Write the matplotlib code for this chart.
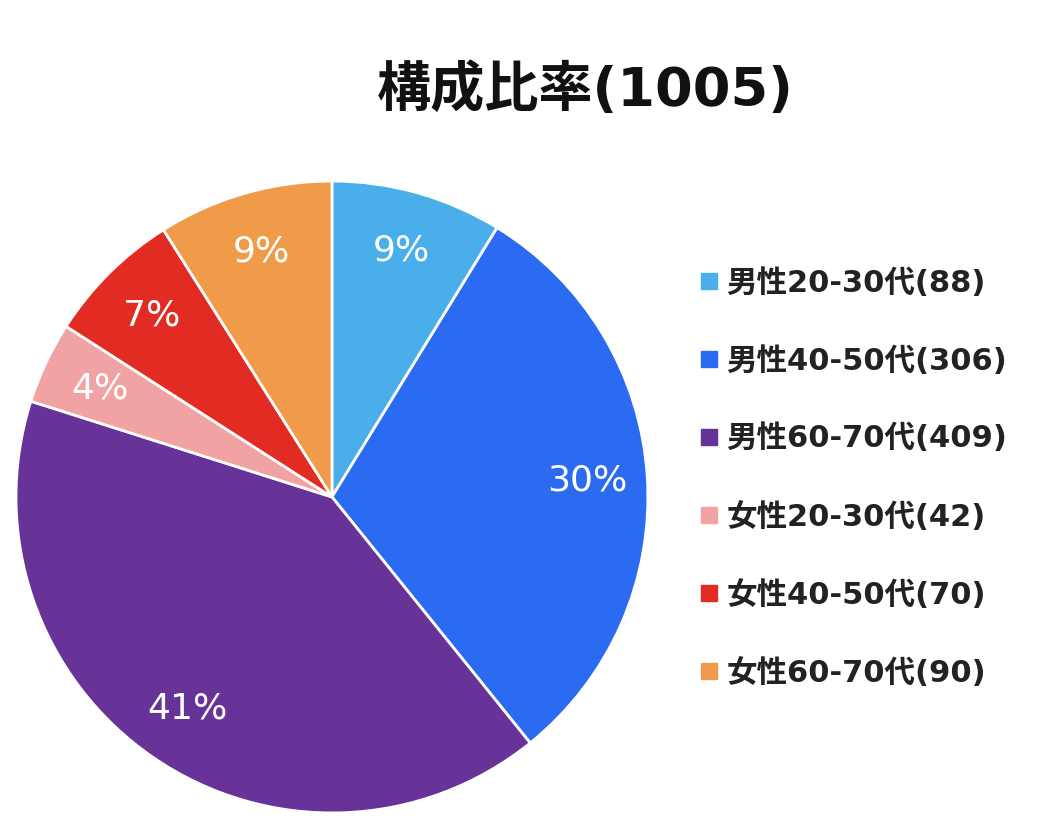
import matplotlib
matplotlib.use("Agg")
import matplotlib.pyplot as plt
from matplotlib.lines import Line2D

plt.rcParams['font.family'] = ['DejaVu Sans', 'Noto Sans CJK JP']

categories = ["男性20-30代(88)", "男性40-50代(306)", "男性60-70代(409)",
              "女性20-30代(42)", "女性40-50代(70)", "女性60-70代(90)"]
values = [88, 306, 409, 42, 70, 90]
colors = ["#4AAEEA", "#2B6BF2", "#683398", "#F0A3A2", "#E22B22", "#F09B4A"]
title = "構成比率(1005)"

fig = plt.figure(figsize=(10.48, 8.34), dpi=100)
ax = fig.add_axes([0.00925, 0.0176, 0.615, 0.773])
wedges, texts, autotexts = ax.pie(
    values, colors=colors, startangle=90, counterclock=False,
    autopct=lambda p: f"{p:.0f}%", pctdistance=0.81,
    wedgeprops=dict(edgecolor="white", linewidth=2),
    textprops=dict(color="white", fontsize=26))
ax.set_xlim(-1.02, 1.02)
ax.set_ylim(-1.02, 1.02)
ax.set_aspect('equal')

fig.text(0.558, 0.892, title, ha='center', va='center', fontsize=39,
         fontweight='bold', color='#111111')

handles = [Line2D([0], [0], marker='s', color='none', markerfacecolor=c,
                  markeredgecolor=c, markersize=12) for c in colors]
leg = fig.legend(handles, categories, loc='center left',
                 bbox_to_anchor=(0.642, 0.427), frameon=False,
                 handlelength=0.55, handletextpad=0.3, labelspacing=1.575,
                 prop=dict(size=22, weight='bold'))
for t in leg.get_texts():
    t.set_color('#222222')

fig.savefig("out.png", dpi=100, facecolor='white')
